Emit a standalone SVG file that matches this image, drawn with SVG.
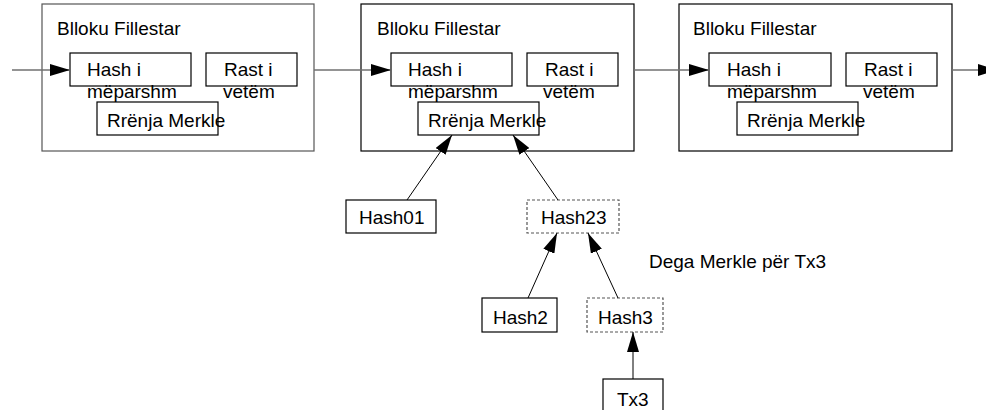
<svg xmlns="http://www.w3.org/2000/svg" width="986" height="410" viewBox="0 0 986 410">
  <style>
    text { font-family: "Liberation Sans", Arial, sans-serif; font-size: 19px; fill: #000; }
    .box { fill: #fff; stroke: #000; stroke-width: 1.2; }
    .frame { fill: #fff; stroke: #000; stroke-width: 1.2; }
    .frame.first { stroke: #555; }
    .dashed { fill: #fff; stroke: #555; stroke-width: 1.2; stroke-dasharray: 3 2; }
    .chain { stroke: #707070; stroke-width: 1.6; fill: none; }
    .link { stroke: #000; stroke-width: 1; fill: none; }
  </style>
  <defs>
    <marker id="head" viewBox="0 0 20 12" refX="20" refY="6" markerWidth="20" markerHeight="12" markerUnits="userSpaceOnUse" orient="auto">
      <path d="M0,0 L20,6 L0,12 Z" fill="#000"/>
    </marker>
  </defs>

  <!-- block frames -->
  <g id="block1">
    <rect class="frame first" x="42" y="4" width="272" height="147"/>
    <text x="57" y="35">Blloku Fillestar</text>
    <rect class="box" x="70" y="53" width="121" height="33"/>
    <text x="87" y="76">Hash i</text>
    <text x="87" y="98">mëparshm</text>
    <rect class="box" x="206" y="53" width="91" height="33"/>
    <text x="224" y="76">Rast i</text>
    <text x="223" y="98">vetëm</text>
    <rect class="box" x="97" y="102" width="121" height="33"/>
    <text x="107" y="127">Rrënja Merkle</text>
  </g>

  <g id="block2">
    <rect class="frame" x="361" y="4" width="273" height="147"/>
    <text x="377" y="35">Blloku Fillestar</text>
    <rect class="box" x="391" y="53" width="121" height="33"/>
    <text x="408" y="76">Hash i</text>
    <text x="408" y="98">mëparshm</text>
    <rect class="box" x="527" y="53" width="91" height="33"/>
    <text x="545" y="76">Rast i</text>
    <text x="543" y="98">vetëm</text>
    <rect class="box" x="418" y="102" width="121" height="33"/>
    <text x="428" y="127">Rrënja Merkle</text>
  </g>

  <g id="block3">
    <rect class="frame" x="679" y="4" width="273" height="147"/>
    <text x="693" y="35">Blloku Fillestar</text>
    <rect class="box" x="709" y="53" width="122" height="33"/>
    <text x="727" y="76">Hash i</text>
    <text x="727" y="98">mëparshm</text>
    <rect class="box" x="846" y="53" width="91" height="33"/>
    <text x="864" y="76">Rast i</text>
    <text x="863" y="98">vetëm</text>
    <rect class="box" x="737" y="102" width="121" height="33"/>
    <text x="747" y="127">Rrënja Merkle</text>
  </g>

  <!-- Merkle tree nodes -->
  <g id="hash01">
    <rect class="box" x="346" y="200" width="90" height="33"/>
    <text x="359" y="224">Hash01</text>
  </g>
  <g id="hash23">
    <rect class="dashed" x="527" y="200" width="92" height="33"/>
    <text x="541" y="224">Hash23</text>
  </g>
  <g id="hash2">
    <rect class="box" x="482" y="298" width="75" height="34"/>
    <text x="493" y="324">Hash2</text>
  </g>
  <g id="hash3">
    <rect class="dashed" x="587" y="298" width="76" height="34"/>
    <text x="598" y="324">Hash3</text>
  </g>
  <g id="tx3">
    <rect class="box" x="603" y="379" width="60" height="40"/>
    <text x="617" y="406">Tx3</text>
  </g>
  <g id="branch-label">
    <text x="649" y="268">Dega Merkle për Tx3</text>
  </g>

  <!-- connectors -->
  <g id="connectors">
    <line class="chain" x1="12" y1="70" x2="70" y2="70" marker-end="url(#head)"/>
    <line class="chain" x1="314" y1="70" x2="391" y2="70" marker-end="url(#head)"/>
    <line class="chain" x1="634" y1="70" x2="709" y2="70" marker-end="url(#head)"/>
    <line class="chain" x1="952" y1="70" x2="998" y2="70" marker-end="url(#head)"/>

    <line class="link" x1="407" y1="200" x2="452" y2="135" marker-end="url(#head)"/>
    <line class="link" x1="558" y1="200" x2="513" y2="135" marker-end="url(#head)"/>
    <line class="link" x1="528" y1="298" x2="557" y2="233" marker-end="url(#head)"/>
    <line class="link" x1="618" y1="298" x2="588" y2="233" marker-end="url(#head)"/>
    <line class="link" x1="633" y1="379" x2="633" y2="332" marker-end="url(#head)"/>
  </g>
</svg>
